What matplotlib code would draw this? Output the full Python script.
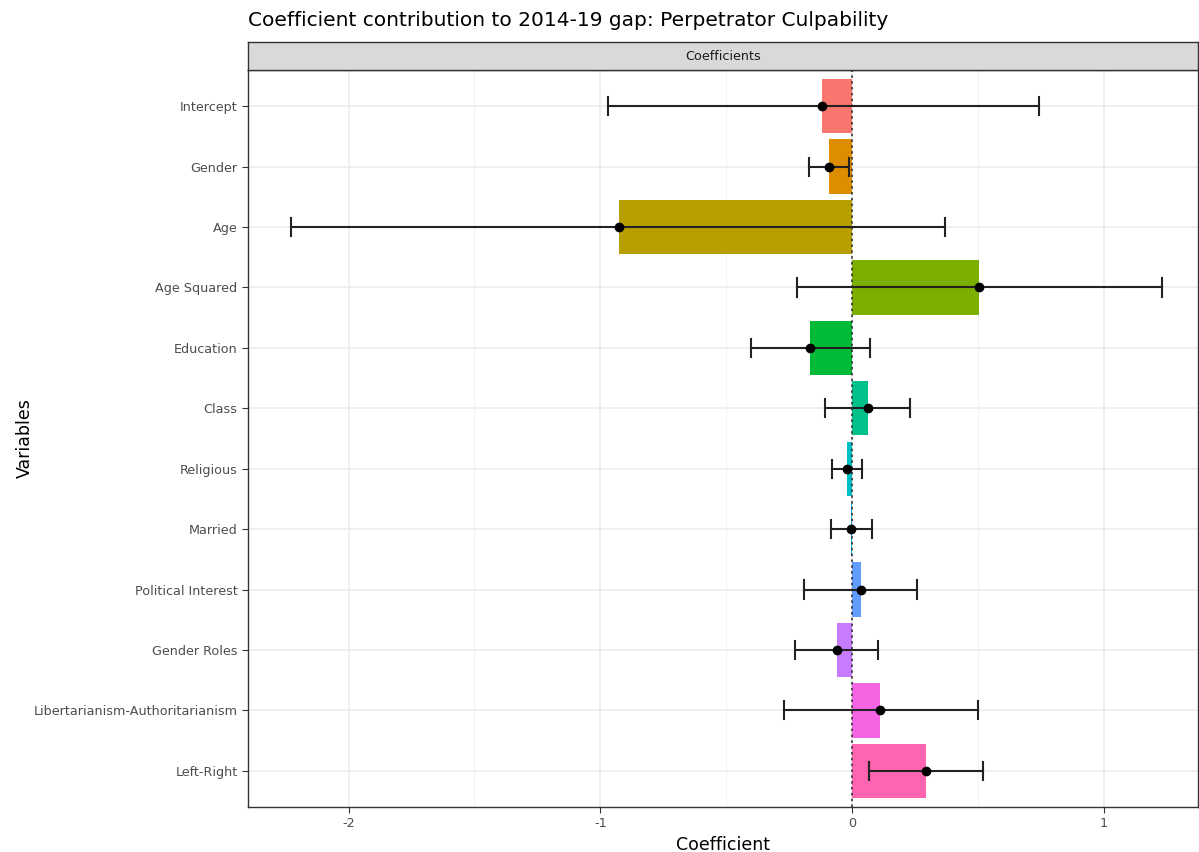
import matplotlib.pyplot as plt
from matplotlib.ticker import MultipleLocator

plt.rcParams['axes.unicode_minus'] = False

variables = ['Intercept', 'Gender', 'Age', 'Age Squared', 'Education', 'Class',
             'Religious', 'Married', 'Political Interest', 'Gender Roles',
             'Libertarianism-Authoritarianism', 'Left-Right']
coef = [-0.12, -0.09, -0.925, 0.505, -0.167, 0.064, -0.02, -0.003, 0.036, -0.06, 0.11, 0.294]
lower = [-0.97, -0.17, -2.23, -0.22, -0.40, -0.107, -0.08, -0.083, -0.19, -0.227, -0.27, 0.068]
upper = [0.743, -0.01, 0.37, 1.23, 0.07, 0.23, 0.04, 0.08, 0.26, 0.103, 0.50, 0.52]
colors = ['#F8766D', '#DE8C00', '#B79F00', '#7CAE00', '#00BA38', '#00C08B',
          '#00BFC4', '#00B4F0', '#619CFF', '#C77CFF', '#F564E3', '#FF64B0']

fig = plt.figure(figsize=(11.99, 8.52), dpi=100)
ax = fig.add_axes([248 / 1199, 1 - 807 / 852, 950 / 1199, 737 / 852])

pos = list(range(len(variables)))
ax.barh(pos, coef, height=0.9, color=colors, zorder=2)
ax.axvline(0, color='#333333', linestyle=(0, (1.5, 2)), linewidth=1.2, zorder=3)

# error bars with caps
for y, lo, hi in zip(pos, lower, upper):
    ax.plot([lo, hi], [y, y], color='#222222', linewidth=1.5, zorder=4)
    ax.plot([lo, lo], [y - 0.15, y + 0.15], color='#222222', linewidth=1.5, zorder=4)
    ax.plot([hi, hi], [y - 0.15, y + 0.15], color='#222222', linewidth=1.5, zorder=4)
ax.plot(coef, pos, 'o', color='black', markersize=6, zorder=5)

ax.set_xlim(-2.40, 1.375)
ax.set_ylim(len(variables) - 0.4, -0.6)
ax.set_yticks(pos)
ax.set_yticklabels(variables)
ax.xaxis.set_major_locator(MultipleLocator(1))
ax.xaxis.set_minor_locator(MultipleLocator(0.5))
ax.grid(True, which='major', color='#EBEBEB', linewidth=1.1, zorder=0)
ax.grid(True, which='minor', axis='x', color='#F2F2F2', linewidth=0.7, zorder=0)
ax.set_axisbelow(True)
ax.tick_params(axis='both', which='major', labelsize=9.2, labelcolor='#4D4D4D',
               color='#333333', length=4)
ax.tick_params(axis='x', which='minor', length=0)
for s in ax.spines.values():
    s.set_color('#333333')
    s.set_linewidth(1.0)

ax.set_xlabel('Coefficient', fontsize=12.5, labelpad=4)
fig.text(25 / 1199, 1 - 438 / 852, 'Variables', rotation=90, ha='center', va='center',
         fontsize=12.5)

# facet strip
strip = fig.add_axes([248 / 1199, 1 - 70 / 852, 950 / 1199, 28 / 852])
strip.set_xticks([])
strip.set_yticks([])
strip.set_facecolor('#D9D9D9')
for s in strip.spines.values():
    s.set_color('#333333')
    s.set_linewidth(1.0)
strip.text(0.5, 0.5, 'Coefficients', ha='center', va='center', fontsize=9.2,
           color='#1A1A1A', transform=strip.transAxes)

fig.text(248 / 1199, 1 - 20 / 852, 'Coefficient contribution to 2014-19 gap: Perpetrator Culpability',
         ha='left', va='center', fontsize=14.5)

fig.savefig('out.png', dpi=100)
